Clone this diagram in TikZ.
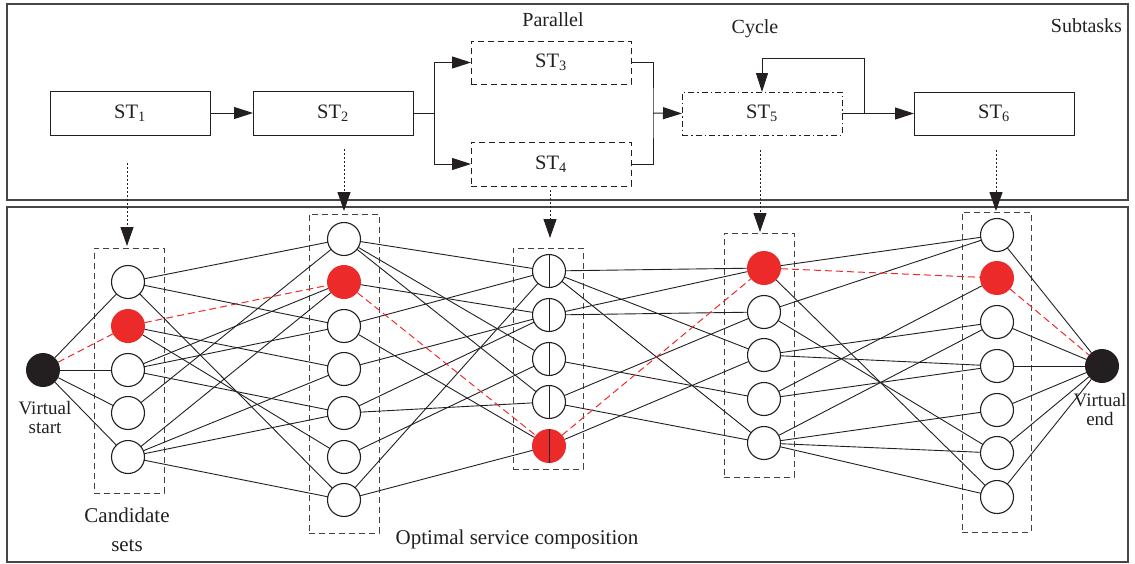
\documentclass[tikz,border=0pt]{standalone}
\usepackage{fontspec}
\setmainfont{Liberation Serif}
\usetikzlibrary{arrows.meta}
\definecolor{optred}{RGB}{237,42,42}
\definecolor{ink}{RGB}{35,31,32}
\definecolor{panelc}{RGB}{70,70,70}
\newcommand{\stlab}[1]{ST\textsubscript{#1}}
\begin{document}
\begin{tikzpicture}[x=1pt,y=-1pt,
  every node/.style={inner sep=0pt,outer sep=0pt},
  txt/.style={font=\fontsize{20}{24}\selectfont,text=ink},
  bigtxt/.style={font=\fontsize{21}{24}\selectfont,text=ink},
  smalltxt/.style={font=\fontsize{19}{19}\selectfont,text=ink,align=center},
  stbox/.style={draw=ink,line width=1pt,minimum width=160pt,minimum height=44pt,font=\fontsize{20.5}{24}\selectfont,text=ink},
  dashbox/.style={stbox,dash pattern=on 6pt off 4pt},
  dotbox/.style={stbox,dash pattern=on 6pt off 3pt on 1.5pt off 3pt},
  candbox/.style={draw=ink!85,line width=1pt,dash pattern=on 6pt off 4pt,minimum width=70pt},
  svc/.style={circle,draw=ink,line width=1.1pt,minimum size=33pt,fill=white},
  best/.style={circle,fill=optred,minimum size=34pt},
  term/.style={circle,fill=ink,minimum size=34pt},
  link/.style={draw=ink,line width=0.9pt},
  bestlink/.style={draw=optred,line width=1pt,dash pattern=on 7pt off 4pt},
  flow/.style={draw=ink,line width=1pt,-{Triangle[length=19pt,width=12pt]}},
  flowplain/.style={draw=ink,line width=1pt},
  mapto/.style={draw=ink,line width=1pt,dash pattern=on 1.5pt off 2.5pt,-{Triangle[length=19pt,width=13pt]}},
  panel/.style={draw=panelc,line width=1.5pt}
]
\useasboundingbox (0,0) rectangle (1135,563);
% panels
\draw[panel] (7,4) rectangle (1128,200);
\draw[panel] (7,207) rectangle (1128,562);

% ---------- subtasks ----------
\node[stbox] (ST1) at (130,113) {\stlab{1}};
\node[stbox] (ST2) at (333,113) {\stlab{2}};
\node[dashbox,minimum height=43pt] (ST3) at (551,62.5) {\stlab{3}};
\node[dashbox] (ST4) at (551,164) {\stlab{4}};
\node[dotbox,minimum height=43pt] (ST5) at (762,113.5) {\stlab{5}};
\node[stbox,minimum height=43pt] (ST6) at (994,113.5) {\stlab{6}};

\node[txt,anchor=base] (lpar) at (553,26) {Parallel};
\node[txt,anchor=base] (lcyc) at (755,33) {Cycle};
\node[txt,anchor=base east] (lsub) at (1122,32) {Subtasks};

\draw[flow] (ST1) -- (ST2);
\coordinate (split) at (434,113);
\draw[flowplain] (ST2.east) -- (split);
\draw[flow] (split) |- (ST3.west);
\draw[flow] (split) |- (ST4.west);
\coordinate (merge) at (653,113);
\draw[flowplain] (ST3.east) -| (merge) |- (ST4.east);
\draw[flow] (merge) -- (ST5.west);
\draw[flow] (ST5.east) -- (ST6.west);
\coordinate (loopa) at (864,113);
\coordinate (loopb) at (864,58);
\draw[flow] (loopa) -- (loopb) -| (ST5.north);

% ---------- candidate set boxes ----------
\node[candbox,minimum height=245pt] (boxA) at (129,370.5) {};
\node[candbox,minimum height=319pt] (boxB) at (344,373.5) {};
\node[candbox,minimum height=221pt] (boxC) at (548,358.5) {};
\node[candbox,minimum height=244pt] (boxD) at (759,355) {};
\node[candbox,minimum height=320pt,minimum width=69pt] (boxE) at (996.5,372) {};

% mapping arrows
\coordinate (m1s) at (127,163); \coordinate (m1e) at (127,246);
\coordinate (m2s) at (344,149); \coordinate (m2e) at (344,211);
\coordinate (m3s) at (550,190); \coordinate (m3e) at (550,238);
\coordinate (m4s) at (760,150); \coordinate (m4e) at (760,232);
\coordinate (m5s) at (996,150); \coordinate (m5e) at (996,211);
\draw[mapto] (m1s) -- (m1e);
\draw[mapto] (m2s) -- (m2e);
\draw[mapto] (m3s) -- (m3e);
\draw[mapto] (m4s) -- (m4e);
\draw[mapto] (m5s) -- (m5e);

% ---------- services ----------
\node[term] (S) at (43,370) {};
\node[term] (T) at (1102,366) {};
\foreach \i/\y/\s in {1/282/svc,2/326/best,3/370/svc,4/413/svc,5/457/svc}
  \node[\s] (A\i) at (128,\y) {};
\foreach \i/\y/\s in {1/239/svc,2/282/best,3/326/svc,4/369/svc,5/413/svc,6/457/svc,7/500/svc}
  \node[\s] (B\i) at (344,\y) {};
\foreach \i/\y/\s in {1/271/svc,2/315/svc,3/359/svc,4/402/svc,5/446/best}
  \node[\s] (C\i) at (549,\y) {};
\foreach \i in {1,...,5}
  \draw[link] (C\i.north) -- (C\i.south);
\foreach \i/\y/\s in {1/268/best,2/312/svc,3/355/svc,4/399/svc,5/443/svc}
  \node[\s] (D\i) at (764,\y) {};
\foreach \i/\y/\s in {1/235/svc,2/278/best,3/322/svc,4/366/svc,5/410/svc,6/453/svc,7/497/svc}
  \node[\s] (E\i) at (997,\y) {};

% ---------- links ----------
\foreach \b in {1,3,4,5} \draw[link] (S) -- (A\b);
\foreach \a/\b in {1/1,1/3,1/7,2/4,2/6,3/2,3/3,3/5,4/1,5/2,5/4,5/5,5/7}
  \draw[link] (A\a) -- (B\b);
\foreach \a/\b in {1/1,1/3,1/4,2/2,3/1,3/5,4/2,5/2,5/4,6/3,7/1,7/5}
  \draw[link] (B\a) -- (C\b);
\foreach \a/\b in {1/1,1/3,1/5,2/1,2/2,3/4,4/2,4/5,5/3}
  \draw[link] (C\a) -- (D\b);
\foreach \a/\b in {1/1,1/7,2/1,2/6,3/3,3/4,4/2,4/4,5/3,5/5,5/6,5/7}
  \draw[link] (D\a) -- (E\b);
\foreach \a in {1,3,4,5,6,7} \draw[link] (E\a) -- (T);

% optimal composition
\draw[bestlink] (S) -- (A2);
\draw[bestlink] (A2) -- (B2);
\draw[bestlink] (B2) -- (C5);
\draw[bestlink] (C5) -- (D1);
\draw[bestlink] (D1) -- (E2);
\draw[bestlink] (E2) -- (T);

% ---------- labels ----------
\node[smalltxt,anchor=base] (lvs1) at (45,414) {Virtual};
\node[smalltxt,anchor=base] (lvs2) at (45,433) {start};
\node[smalltxt,anchor=base] (lve1) at (1100,406) {Virtual};
\node[smalltxt,anchor=base] (lve2) at (1100,425) {end};
\node[bigtxt,anchor=base] (lcand1) at (127,522) {Candidate};
\node[bigtxt,anchor=base] (lcand2) at (127,551) {sets};
\node[bigtxt,anchor=base] (lopt) at (517,544) {Optimal service composition};
\end{tikzpicture}
\end{document}
